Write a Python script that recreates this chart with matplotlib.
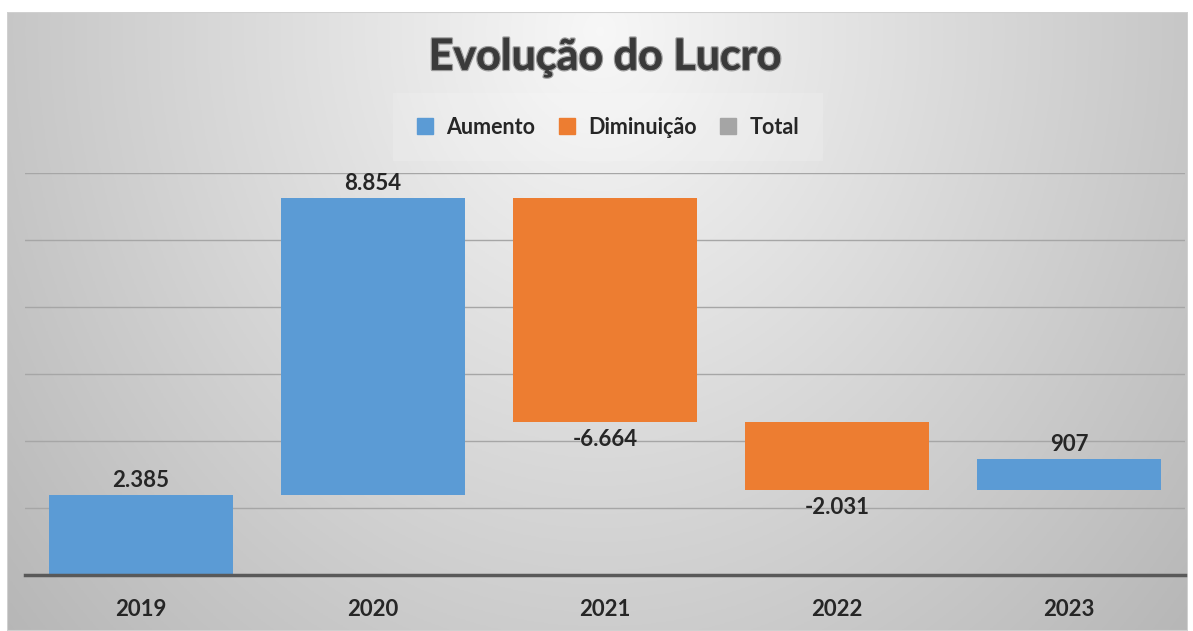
import numpy as np
import matplotlib.pyplot as plt
from matplotlib import patheffects as pe
from matplotlib.patches import Rectangle, Patch

plt.rcParams['font.family'] = ['Lato', 'DejaVu Sans']

# dados do gráfico em cascata
anos = ['2019', '2020', '2021', '2022', '2023']
variacao = [2385, 8854, -6664, -2031, 907]

cor_aumento = '#5B9BD5'
cor_diminuicao = '#ED7D31'
cor_total = '#A5A5A5'

# base de cada barra = acumulado anterior
acum = np.cumsum(variacao)
inicio = np.concatenate([[0], acum[:-1]])
base = np.minimum(inicio, acum)
altura = np.abs(variacao)
cores = [cor_aumento if v >= 0 else cor_diminuicao for v in variacao]

W, H = 1193, 631
fig = plt.figure(figsize=(W / 100, H / 100), dpi=100)
fig.patch.set_facecolor('white')

# fundo com gradiente radial
bg = fig.add_axes([7 / W, 0, (1188 - 7) / W, (H - 12) / H])
xx, yy = np.meshgrid(np.linspace(7, 1188, 400), np.linspace(12, 631, 200))
r = np.sqrt(((xx - 600) / 620) ** 2 + ((yy - 30) / 720) ** 2)
lum = np.clip(0.97 - 0.20 * r, 0, 1)
bg.imshow(np.dstack([lum, lum, lum]), extent=[0, 1, 0, 1], aspect='auto', origin='upper')
bg.add_patch(Rectangle((0, 0), 1, 1, transform=bg.transAxes, fill=False,
                       edgecolor='#d0d0d0', lw=1.5))
bg.axis('off')

ax = fig.add_axes([25 / W, 1 - 575 / H, (1185 - 25) / W, (575 - 173) / H])
ax.patch.set_alpha(0)
x = np.arange(len(anos))
ax.bar(x, altura, bottom=base, width=0.79, color=cores, zorder=3)
ax.set_xlim(-0.5, len(anos) - 0.5)
ax.set_ylim(0, 12000)
ax.set_yticks(np.arange(0, 12001, 2000))
ax.yaxis.grid(True, color='#a6a6a6', lw=1, zorder=0)
ax.tick_params(axis='y', left=False, labelleft=False)
ax.tick_params(axis='x', bottom=False, pad=14)
ax.set_xticks(x)
ax.set_xticklabels(anos, fontsize=16, fontweight='bold', color='#262626')
for s in ['top', 'right', 'left']:
    ax.spines[s].set_visible(False)
ax.spines['bottom'].set_color('#595959')
ax.spines['bottom'].set_linewidth(2.5)
ax.spines['bottom'].set_zorder(4)

for xi, v, b, h in zip(x, variacao, base, altura):
    txt = f'{v:,}'.replace(',', '.')
    if v >= 0:
        ax.annotate(txt, (xi, b + h), xytext=(0, 3), textcoords='offset points',
                    ha='center', va='bottom', fontsize=16, fontweight='bold', color='#262626')
    else:
        ax.annotate(txt, (xi, b), xytext=(0, -5), textcoords='offset points',
                    ha='center', va='top', fontsize=16, fontweight='bold', color='#262626')

fig.text(605 / W, 1 - 57 / H, 'Evolução do Lucro', ha='center', va='center',
         fontsize=31, fontweight='bold', color='#3a3a3a',
         path_effects=[pe.withStroke(linewidth=2, foreground='#9a9a9a'), pe.Normal()])

handles = [Patch(color=cor_aumento, label='Aumento'),
           Patch(color=cor_diminuicao, label='Diminuição'),
           Patch(color=cor_total, label='Total')]
leg = fig.legend(handles=handles, loc='center', bbox_to_anchor=(608 / W, 1 - 127 / H),
                 ncol=3, frameon=True, prop={'weight': 'bold', 'size': 15.5},
                 handlelength=0.75, handleheight=0.75, handletextpad=0.6, columnspacing=1.1,
                 borderpad=1.1, fancybox=False)
leg.get_frame().set_facecolor('white')
leg.get_frame().set_alpha(0.15)
leg.get_frame().set_edgecolor('none')
for t in leg.get_texts():
    t.set_color('#262626')

fig.savefig('out.png', dpi=100)
